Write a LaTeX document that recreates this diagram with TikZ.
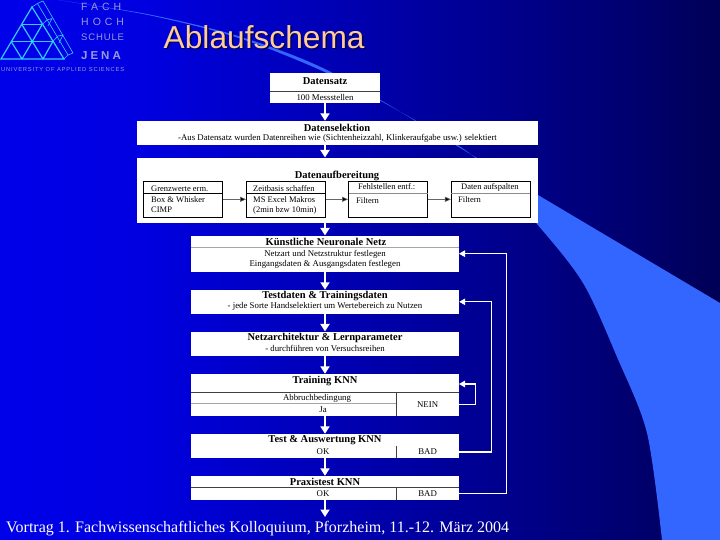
\documentclass[tikz,border=0pt]{standalone}
\usepackage{fontspec}
\setmainfont{Liberation Serif}
\newfontfamily\logofont{Liberation Sans}
\usepackage{xcolor}
\usetikzlibrary{arrows.meta,positioning,calc}
\definecolor{swoosh}{HTML}{3366FF}
\definecolor{logocyan}{HTML}{33CCFF}
\definecolor{logotxt}{HTML}{9A9ADC}
\definecolor{titlecol}{HTML}{FFCC99}
\pgfdeclarehorizontalshading{slide}{100bp}{color(0bp)=(blue!100!black); color(35bp)=(blue!88!black); color(70bp)=(blue!42!black); color(90bp)=(blue!8!black); color(100bp)=(black)}
\newcommand{\headsize}{\fontsize{10.5}{11}\selectfont\bfseries}
\newcommand{\bodysize}{\fontsize{8.8}{10.5}\selectfont}

\begin{document}
\begin{tikzpicture}[x=1pt, y=-1pt,
  panel/.style={fill=white, inner sep=0pt},
  cell/.style={inner sep=0pt, font=\bodysize, align=center},
  head/.style={inner sep=0pt, font=\headsize, align=center},
  sub/.style={draw=black, line width=0.8pt, fill=white, minimum width=79pt, minimum height=36pt, inner sep=0pt},
  subtxt/.style={inner sep=0pt, font=\fontsize{8.5}{10}\selectfont, align=left, anchor=west},
  rule/.style={draw=black!75, line width=0.7pt},
  thick rule/.style={draw=black!35, line width=1.5pt},
  flow/.style={draw=white, line width=2.4pt, -{Triangle[length=7.5pt,width=9pt]}},
  back/.style={draw=white, line width=1.1pt, -{Triangle[length=6pt,width=6.5pt]}},
  link/.style={draw=black!60, line width=0.6pt, -{Triangle[length=6pt,width=5pt,fill=black]}},
  logo/.style={draw=logocyan, line width=1.2pt},
  logoback/.style={draw=logocyan, line width=0.6pt},
  logotext/.style={inner sep=0pt, anchor=west, text=logotxt}]
\useasboundingbox (0,0) rectangle (720,540);
\shade[shading=slide] (0,0) rectangle (720,540);

% swoosh
\fill[swoosh] plot[smooth, tension=0.5] coordinates {(58,0) (150,14.6) (240,36.6) (330,71.5) (452,143) (538,195) (720,303)}
  -- (720,540) -- (662,540)
  -- plot[smooth, tension=0.5] coordinates {(662,540) (647,433) (617,357) (583,283) (537,224) (478,160) (420,123) (330,74.5) (240,38.4) (150,15.4) (58,0)} -- cycle;

% logo
\draw[logo] (32,7) -- (1,59) -- (64,59) -- cycle;
\draw[logo] (21.7,24.3) -- (42.3,24.3) (11.3,41.7) -- (52.7,41.7);
\draw[logo] (21.7,24.3) -- (43,59) (11.3,41.7) -- (22,59) (42.3,24.3) -- (22,59) (52.7,41.7) -- (43,59);
\draw[logoback] (32,7) -- (37.5,3.5) -- (68,55) -- (64,59);
\draw[logoback] (37.5,3.5) -- (43,1) -- (73,53) -- (68,55);
\draw[logoback] (42.3,24.3) -- (47,20) -- (52,18.5) -- (48,26) (52.7,41.7) -- (58,36) -- (63,35) -- (59,43);

\node[logotext, font=\logofont\fontsize{10.5}{11}\selectfont\addfontfeature{LetterSpace=38}] (lgfach) at (81,7) {FACH};
\node[logotext, font=\logofont\fontsize{10.5}{11}\selectfont\addfontfeature{LetterSpace=38}] (lghoch) at (81,21.5) {HOCH};
\node[logotext, font=\logofont\fontsize{9.5}{10}\selectfont\addfontfeature{LetterSpace=9}] (lgschule) at (81,37.5) {SCHULE};
\node[logotext, font=\logofont\bfseries\fontsize{11.5}{12}\selectfont\addfontfeature{LetterSpace=26}] (lgjena) at (81,56) {JENA};
\node[logotext, font=\logofont\fontsize{5.8}{6}\selectfont\addfontfeature{LetterSpace=14}] (lguni) at (1,70) {UNIVERSITY OF APPLIED SCIENCES};

% title and footer
\node[inner sep=0pt, anchor=west, text=black!70!blue, font=\logofont\fontsize{31.7}{33}\selectfont] (titleshadow) at (165,38.5) {Ablaufschema};
\node[inner sep=0pt, anchor=west, text=titlecol, font=\logofont\fontsize{31.7}{33}\selectfont] (title) at (163.5,37) {Ablaufschema};
\node[inner sep=0pt, anchor=west, text=white, font=\fontsize{16}{18}\selectfont] (footer) at (6,528.5) {Vortrag 1. Fachwissenschaftliches Kolloquium, Pforzheim, 11.-12. März 2004};

% main boxes
\node[panel, minimum width=110pt, minimum height=30pt] (satz) at (325,88.3) {};
\node[panel, minimum width=401.3pt, minimum height=24pt] (selekt) at (337.3,133) {};
\node[panel, minimum width=401.3pt, minimum height=65.6pt] (aufb) at (337.3,190.5) {};
\node[panel, minimum width=268pt, minimum height=36.3pt] (knn) at (325,253.8) {};
\node[panel, minimum width=268pt, minimum height=23.7pt] (daten) at (325,301.8) {};
\node[panel, minimum width=268pt, minimum height=24.3pt] (arch) at (325,343.8) {};
\node[panel, minimum width=268pt, minimum height=42pt] (train) at (325,395) {};
\node[panel, minimum width=268pt, minimum height=24pt] (test) at (325,446) {};
\node[panel, minimum width=268pt, minimum height=24pt] (praxis) at (325,488) {};
\coordinate (ende) at (325,517);

% dividers
\draw[rule] (270,91.7) -- (380,91.7);
\draw[thick rule] (191,247.7) -- (459,247.7);
\draw[rule] (191,392.3) -- (459,392.3);
\draw[thick rule] (191,403.7) -- (396.3,403.7);
\draw[rule] (396.3,392.3) -- (396.3,416);
\draw[rule] (396.3,446) -- (396.3,458);
\draw[rule] (191,487.7) -- (459,487.7);
\draw[rule] (396.3,487.7) -- (396.3,500);

% texts
\node[head] (satzh) at (325,81.5) {Datensatz};
\node[cell] (satzb) at (325,97.5) {100 Messstellen};
\node[head] (selekth) at (337,127.5) {Datenselektion};
\node[cell] (selektb) at (337.5,138) {-Aus Datensatz wurden Datenreihen wie (Sichtenheizzahl, Klinkeraufgabe usw.) selektiert};
\node[head] (aufbh) at (337,175.5) {Datenaufbereitung};
\node[head] (knnh) at (326,241.5) {Künstliche Neuronale Netz};
\node[cell] (knnb) at (325,259.5) {Netzart und Netzstruktur festlegen\\Eingangsdaten \& Ausgangsdaten festlegen};
\node[head] (datenh) at (325,296) {Testdaten \& Trainingsdaten};
\node[cell] (datenb) at (325,306.5) {- jede Sorte Handselektiert um Wertebereich zu Nutzen};
\node[head] (archh) at (325,338) {Netzarchitektur \& Lernparameter};
\node[cell] (archb) at (325,348.5) {- durchführen von Versuchsreihen};
\node[head] (trainh) at (325,381.5) {Training KNN};
\node[cell] (abbr) at (317,398) {Abbruchbedingung};
\node[cell] (ja) at (323,410) {Ja};
\node[cell, minimum width=62.7pt, minimum height=23.7pt] (nein) at (427.6,404.2) {NEIN};
\node[head] (testh) at (325,440) {Test \& Auswertung KNN};
\node[cell] (testok) at (323,452) {OK};
\node[cell, minimum width=62.7pt, minimum height=12pt] (testbad) at (427.6,452) {BAD};
\node[head] (praxish) at (325,482) {Praxistest KNN};
\node[cell] (praxok) at (323,494) {OK};
\node[cell, minimum width=62.7pt, minimum height=12.3pt] (praxbad) at (427.6,493.8) {BAD};

% sub boxes
\node[sub] (gr) at (183,199.3) {};
\node[sub] (zb) at (286,199.3) {};
\node[sub] (fs) at (388,199.3) {};
\node[sub] (sp) at (490.8,199.3) {};
\draw[draw=black, line width=0.8pt] (143.5,193.3) -- (222.5,193.3);
\draw[draw=black, line width=0.8pt] (246.5,193.3) -- (325.5,193.3);
\draw[rule, draw=black!45] (348.5,193.3) -- (427.5,193.3);
\draw[rule, draw=black!45] (451.3,193.3) -- (530.3,193.3);
\node[subtxt] (grh) at (151,189) {Grenzwerte erm.};
\node[subtxt] (grb) at (151,205) {Box \& Whisker\\CIMP};
\node[subtxt] (zbh) at (253,189) {Zeitbasis schaffen};
\node[subtxt] (zbb) at (253,205) {MS Excel Makros\\(2min bzw 10min)};
\node[subtxt] (fsh) at (358,187) {Fehlstellen entf.:};
\node[subtxt] (fsb) at (356,201) {Filtern};
\node[subtxt] (sph) at (461,187) {Daten aufspalten};
\node[subtxt] (spb) at (458,200) {Filtern};
\draw[link] (gr) -- (zb);
\draw[link] (zb) -- (fs);
\draw[link] (fs) -- (sp);

% flow
\draw[flow] (satz.south) -- (selekt.north -| satz);
\draw[flow] (selekt.south -| satz) -- (aufb.north -| satz);
\draw[flow] (aufb.south -| satz) -- (knn.north);
\draw[flow] (knn.south) -- (daten.north);
\draw[flow] (daten.south) -- (arch.north);
\draw[flow] (arch.south) -- (train.north);
\draw[flow] (train.south) -- (test.north);
\draw[flow] (test.south) -- (praxis.north);
\draw[flow] (praxis.south) -- (ende);

% feedback
\coordinate (knnin) at (459,253.7);
\coordinate (traintop) at (459,384);
\draw[back] (nein.east) -- ++(16,0) |- (traintop);
\draw[back] (testbad.east) -- ++(32.7,0) |- (daten.east);
\draw[back] (praxbad.east) -- ++(47.7,0) |- (knnin);
\end{tikzpicture}
\end{document}
